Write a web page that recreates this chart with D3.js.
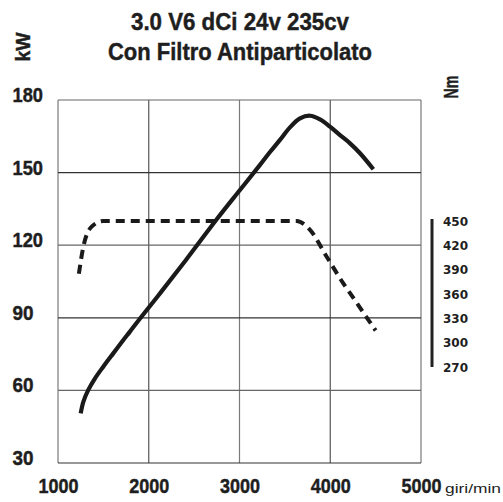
<!DOCTYPE html>
<html><head><meta charset="utf-8">
<script src="https://cdn.jsdelivr.net/npm/d3@7"></script>
<style>
html,body{margin:0;padding:0;background:#fff;}
svg{display:block;}
.cond{font-family:"Liberation Sans Narrow","Arial Narrow","Liberation Sans",Arial,sans-serif;font-weight:bold;fill:#1e1e1e;stroke:#1e1e1e;stroke-width:0.45px;}
</style></head>
<body>
<svg id="c" width="503" height="502"></svg>
<script>
const titleLines = ["3.0 V6 dCi 24v 235cv", "Con Filtro Antiparticolato"];
const rpmTicks = [1000, 2000, 3000, 4000, 5000];
const kwTicks = [30, 60, 90, 120, 150, 180];
const nmTicks = [270, 300, 330, 360, 390, 420, 450];
const powerRpm = [1250,1279,1334,1408,1499,1609,1720,1793,1904,2124,2410,2749,3005,3226,3336,3446,3556,3667,3777,3887,3997,4107,4218,4328,4475];
const powerKw  = [50.5,55.3,60.2,65,69.8,75.3,80.8,84.3,89.7,100.1,113.9,130.7,142.8,153.2,158.5,163.5,168.7,172.4,173.5,172,169,165.5,162.1,158,151.4];
const torqueRpm = [1230,1279,1371,1500,2000,3000,3630,3777,3961,4144,4218,4500];
const torqueNm  = [385,418,443,450,450,450,450,439,406,373,361,315];

const svg = d3.select("#c");
const x = d3.scaleLinear().domain([1000,5000]).range([58,421]);
const yKw = d3.scaleLinear().domain([30,180]).range([463,100]);
const yNm = d3.scaleLinear().domain([270,450]).range([367,221]);

// grid
const g = svg.append("g");
g.selectAll("line.v").data(rpmTicks).join("line")
  .attr("x1",d=>x(d)).attr("x2",d=>x(d)).attr("y1",yKw(180)).attr("y2",yKw(30))
  .attr("stroke",(d,i)=>i%2? "#555":"#7a7a7a").attr("stroke-width",1.2);
g.selectAll("line.h").data(kwTicks).join("line")
  .attr("x1",x(1000)).attr("x2",x(5000)).attr("y1",d=>yKw(d)).attr("y2",d=>yKw(d))
  .attr("stroke",(d,i)=>i%2? "#666":"#333").attr("stroke-width",1.2);

// left labels
svg.selectAll("text.kw").data(kwTicks).join("text").attr("class","cond")
  .attr("x",12.5).attr("y",d=>yKw(d)+2).attr("font-size",21)
  .attr("textLength",d=>String(d).length===3?30.5:21).attr("lengthAdjust","spacingAndGlyphs").text(d=>d);

// bottom labels
svg.selectAll("text.rpm").data(rpmTicks).join("text").attr("class","cond")
  .attr("x",d=>x(d)+0.5).attr("y",493).attr("text-anchor","middle").attr("font-size",21)
  .attr("textLength",40).attr("lengthAdjust","spacingAndGlyphs").text(d=>d);
svg.append("text").attr("x",445).attr("y",493).attr("font-size",13.5)
  .attr("font-family","'Liberation Sans Narrow','Arial Narrow','Liberation Sans',Arial,sans-serif")
  .attr("textLength",56).attr("lengthAdjust","spacingAndGlyphs")
  .attr("fill","#1e1e1e").text("giri/min");

// title
const titleW = [218, 264];
svg.selectAll("text.title").data(titleLines).join("text").attr("class","cond")
  .attr("x",240).attr("y",(d,i)=>29.5+i*30.5).attr("text-anchor","middle").attr("font-size",23.5)
  .attr("textLength",(d,i)=>titleW[i]).attr("lengthAdjust","spacingAndGlyphs").text(d=>d);

// unit labels
svg.append("text").attr("class","cond").attr("font-size",21).attr("text-anchor","middle")
  .attr("textLength",29).attr("lengthAdjust","spacingAndGlyphs")
  .attr("transform","translate(30,47) rotate(-90)").text("kW");
svg.append("text").attr("class","cond").attr("font-size",21).attr("text-anchor","middle")
  .attr("textLength",23).attr("lengthAdjust","spacingAndGlyphs")
  .attr("transform","translate(458,87) rotate(-90)").text("Nm");

// right Nm axis
svg.append("line").attr("x1",432).attr("x2",432).attr("y1",yNm(450)-2).attr("y2",yNm(270))
  .attr("stroke","#222").attr("stroke-width",3);
svg.selectAll("text.nm").data(nmTicks).join("text")
  .attr("x",443).attr("y",d=>yNm(d)+4.5).attr("font-size",12).attr("font-weight","bold")
  .attr("font-family","'DejaVu Sans',sans-serif").attr("fill","#1e1e1e").text(d=>d);

// curves
const power = powerRpm.map((r,i)=>[r,powerKw[i]]);
const torque = torqueRpm.map((r,i)=>[r,torqueNm[i]]);
svg.append("path").datum(power)
  .attr("d", d3.line().x(d=>x(d[0])).y(d=>yKw(d[1])).curve(d3.curveCatmullRom))
  .attr("fill","none").attr("stroke","#1a1a1a").attr("stroke-width",4.2);
svg.append("path").datum(torque)
  .attr("d", d3.line().x(d=>x(d[0])).y(d=>yNm(d[1])).curve(d3.curveMonotoneX))
  .attr("fill","none").attr("stroke","#1a1a1a").attr("stroke-width",4).attr("stroke-dasharray","9,6");
</script>
</body></html>
